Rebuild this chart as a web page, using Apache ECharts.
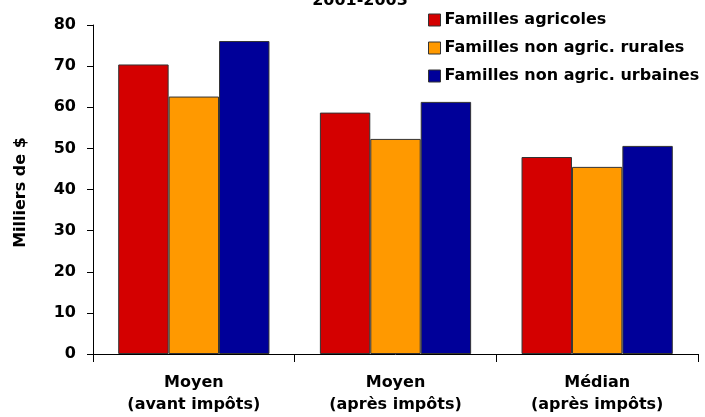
<!DOCTYPE html>
<html><head><meta charset="utf-8">
<script src="https://cdn.jsdelivr.net/npm/echarts@6/dist/echarts.min.js"></script>
<style>html,body{margin:0;padding:0;background:#fff}#c{width:705px;height:417px}</style>
</head><body><div id="c"></div>
<script>
var categories = ["Moyen\n(avant impôts)", "Moyen\n(après impôts)", "Médian\n(après impôts)"];
var seriesNames = ["Familles agricoles", "Familles non agric. rurales", "Familles non agric. urbaines"];
var agricoles = [70.4, 58.7, 47.9];
var rurales = [62.6, 52.3, 45.5];
var urbaines = [76.1, 61.3, 50.6];
var colors = ["#D40000", "#FF9900", "#000099"];
var titleText = "2001-2003";
var yAxisName = "Milliers de $";

var font = "DejaVu Sans";
var chart = echarts.init(document.getElementById('c'), null, {renderer: 'canvas'});
var vals = [agricoles, rurales, urbaines];
chart.setOption({
  animation: false,
  title: {text: titleText, left: 355, top: -12, textAlign: 'center',
    textStyle: {fontFamily: font, fontWeight: 'bold', fontSize: 16, color: '#000'}},
  legend: {orient: 'vertical', left: 423, top: 5, itemWidth: 12, itemHeight: 12, itemGap: 8,
    icon: 'rect', data: seriesNames,
    itemStyle: {borderColor: '#333', borderWidth: 1},
    textStyle: {fontFamily: font, fontWeight: 'bold', fontSize: 16, color: '#000', padding: [0,0,0,-1], lineHeight: 20}},
  grid: {left: 93, right: 7, top: 25, bottom: 63, containLabel: false},
  xAxis: {type: 'category', data: categories,
    axisLine: {lineStyle: {color: '#000', width: 1}},
    axisTick: {show: true, length: 8, lineStyle: {color: '#000'}},
    axisLabel: {fontFamily: font, fontWeight: 'bold', fontSize: 16, color: '#000', lineHeight: 22, margin: 18}},
  yAxis: {type: 'value', min: 0, max: 80, interval: 10,
    name: yAxisName, nameLocation: 'middle', nameGap: 64, nameRotate: 90,
    nameTextStyle: {fontFamily: font, fontWeight: 'bold', fontSize: 16, color: '#000', padding: [0,0,0,-6]},
    splitLine: {show: false},
    axisLine: {show: true, lineStyle: {color: '#000'}},
    axisTick: {show: true, length: 6, lineStyle: {color: '#000'}},
    axisLabel: {fontFamily: font, fontWeight: 'bold', fontSize: 16, color: '#000', margin: 17}},
  series: seriesNames.map(function(n, i){
    return {name: n, type: 'bar', data: vals[i], barGap: '0%', barCategoryGap: '25%',
      itemStyle: {color: colors[i], borderColor: '#333', borderWidth: 1}};
  })
});
</script></body></html>
